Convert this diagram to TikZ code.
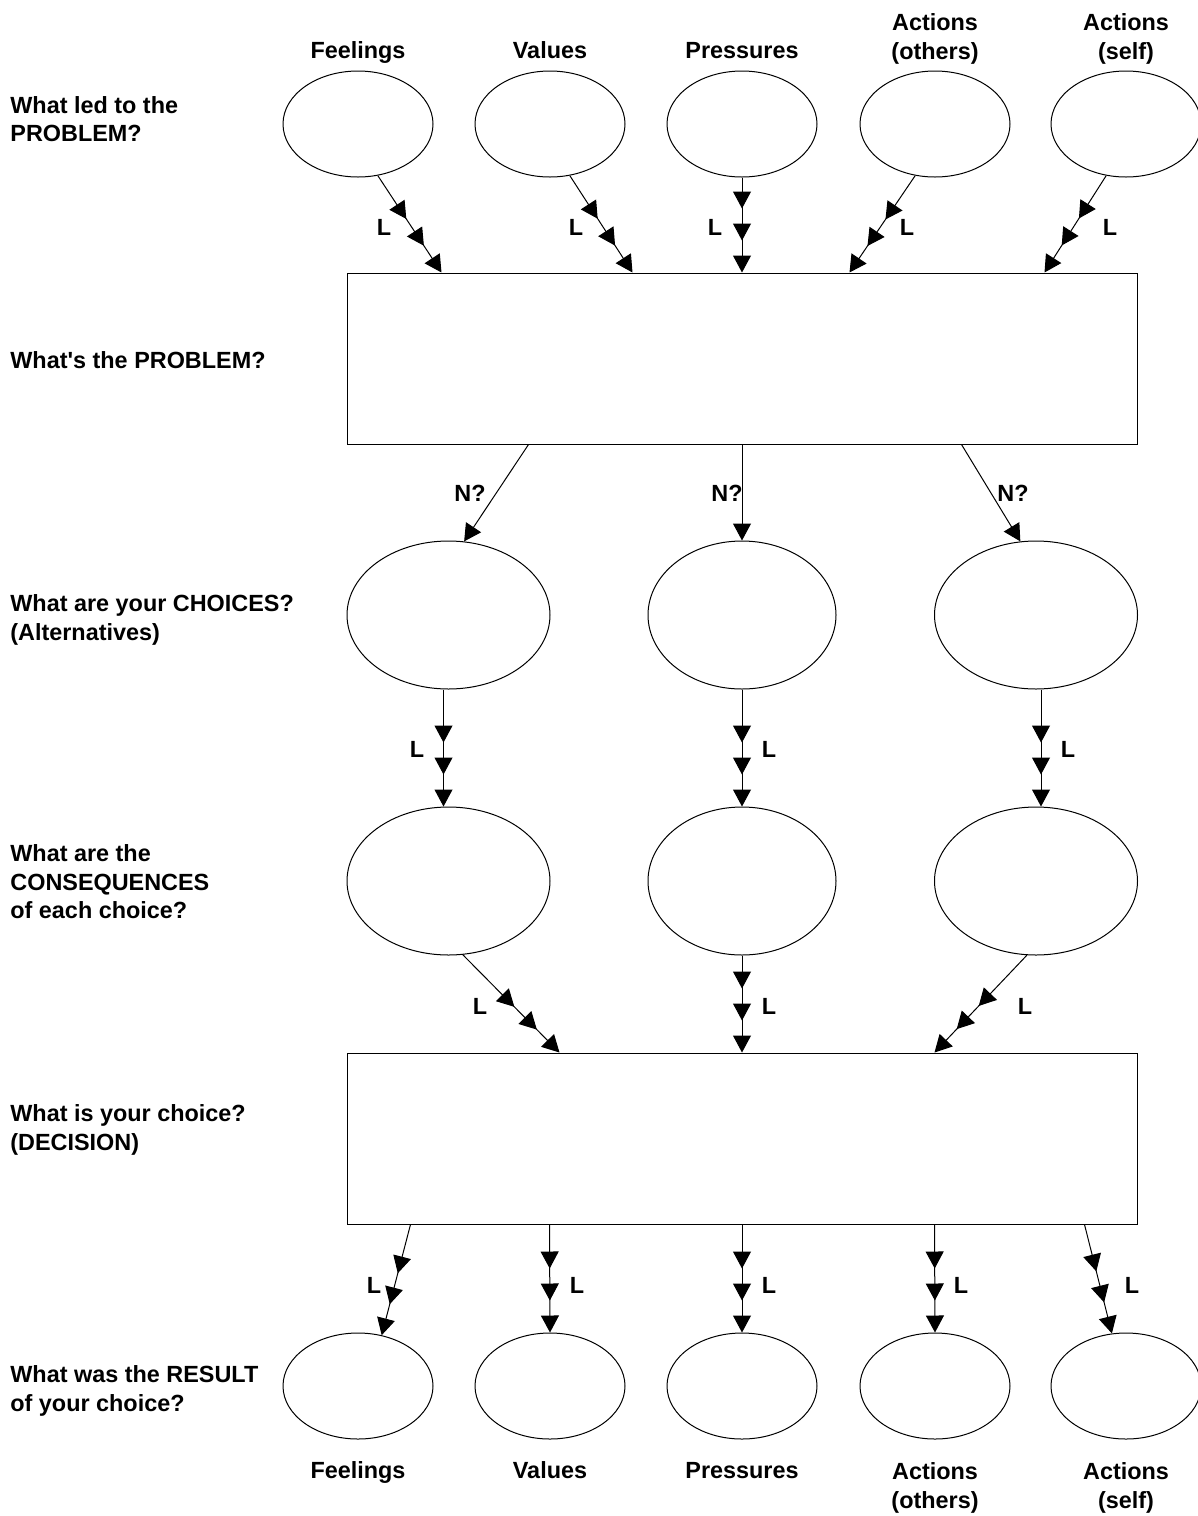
\documentclass[tikz,border=0pt]{standalone}
\usepackage{fontspec}
\setmainfont{Liberation Sans}
\usetikzlibrary{arrows.meta,shapes.geometric,decorations.markings,calc}
\begin{document}
\begin{tikzpicture}[x=0.5pt,y=-0.5pt,
  font=\bfseries\fontsize{11.7pt}{14.2pt}\selectfont,
  small/.style={ellipse, draw, line width=0.5pt, minimum width=75pt, minimum height=53pt, inner sep=0pt},
  big/.style={ellipse, draw, line width=0.5pt, minimum width=101.5pt, minimum height=74pt, inner sep=0pt},
  narrow/.style={big, minimum width=94pt},
  panel/.style={rectangle, draw, line width=0.5pt, minimum width=395pt, minimum height=85.5pt, inner sep=0pt},
  link/.style={line width=0.5pt, -{Triangle[length=8.5pt,width=9pt]}},
  flow/.style={link, postaction={decorate}, decoration={markings,
      mark=at position -16pt with {\arrow{Triangle[length=8.5pt,width=9pt]}},
      mark=at position -32pt with {\arrow{Triangle[length=8.5pt,width=9pt]}}}},
  lab/.style={inner sep=0pt},
  head/.style={inner sep=0pt, align=center},
  word/.style={inner sep=0pt, anchor=base},
  side/.style={inner sep=0pt, anchor=west, align=left},
]
\useasboundingbox (0,0) rectangle (1198,1516);

% row labels on the left
\node[side] (q1) at (10,119) {What led to the\\PROBLEM?};
\node[side] (q2) at (10,360) {What\textquotesingle s the PROBLEM?};
\node[side] (q3) at (10,620) {What are your CHOICES?\\(Alternatives)};
\node[side] (q4) at (10,882) {What are the\\CONSEQUENCES\\of each choice?};
\node[side] (q5) at (10,1130) {What is your choice?\\(DECISION)};
\node[side] (q6) at (10,1391) {What was the RESULT\\of your choice?};

% influences leading to the problem
\node[small] (t1) at (358,124) {};
\node[small] (t2) at (550,124) {};
\node[small] (t3) at (742,124) {};
\node[small] (t4) at (935,124) {};
\node[small] (t5) at (1126,124) {};
\node[word] (h1) at (358,58) {Feelings};
\node[word] (h2) at (550,58) {Values};
\node[word] (h3) at (742,58) {Pressures};
\node[head] (h4) at (935,39) {Actions\\(others)};
\node[head] (h5) at (1126,39) {Actions\\(self)};

% the problem
\node[panel] (r1) at (742,358.5) {};

% choices and consequences
\node[big] (c1) at (448.5,615) {};
\node[narrow] (c2) at (742,615) {};
\node[big] (c3) at (1036,615) {};
\node[big] (d1) at (448.5,881) {};
\node[narrow] (d2) at (742,881) {};
\node[big] (d3) at (1036,881) {};

% the decision
\node[panel] (r2) at (742,1138.5) {};

% results
\node[small] (b1) at (358,1386) {};
\node[small] (b2) at (550,1386) {};
\node[small] (b3) at (742,1386) {};
\node[small] (b4) at (935,1386) {};
\node[small] (b5) at (1126,1386) {};
\node[word] (f1) at (358,1478) {Feelings};
\node[word] (f2) at (550,1478) {Values};
\node[word] (f3) at (742,1478) {Pressures};
\node[head] (f4) at (935,1488) {Actions\\(others)};
\node[head] (f5) at (1126,1488) {Actions\\(self)};

% influences -> problem
\draw[flow] (t1.-69) -- ($(r1.north west)+(95,0)$);
\draw[flow] (t2.-69) -- ($(r1.north west)+(286,0)$);
\draw[flow] (t3.south) -- (r1.north);
\draw[flow] (t4.-111) -- ($(r1.north west)+(503,0)$);
\draw[flow] (t5.-111) -- ($(r1.north west)+(698,0)$);
\node[lab] (l1) at (384,227) {L};
\node[lab] (l2) at (576,227) {L};
\node[lab] (l3) at (715,227) {L};
\node[lab] (l4) at (907,227) {L};
\node[lab] (l5) at (1110,227) {L};

% problem -> choices
\draw[link] ($(r1.south west)+(182,0)$) -- (c1.78);
\draw[link] (r1.south) -- (c2.north);
\draw[link] ($(r1.south west)+(615,0)$) -- (c3.102);
\node[lab] (n1) at (470,493) {N?};
\node[lab] (n2) at (727,493) {N?};
\node[lab] (n3) at (1013,493) {N?};

% choices -> consequences
\draw[flow] ($(c1.south)+(-5,0)$) -- ($(d1.north)+(-5,0)$);
\draw[flow] (c2.south) -- (d2.north);
\draw[flow] ($(c3.south)+(5,0)$) -- ($(d3.north)+(5,0)$);
\node[lab] (m1) at (417,749) {L};
\node[lab] (m2) at (769,749) {L};
\node[lab] (m3) at (1068,749) {L};

% consequences -> decision
\draw[flow] (d1.-79) -- ($(r2.north west)+(213,0)$);
\draw[flow] (d2.south) -- (r2.north);
\draw[flow] (d3.-97) -- ($(r2.north west)+(588,0)$);
\node[lab] (k1) at (480,1006) {L};
\node[lab] (k2) at (769,1006) {L};
\node[lab] (k3) at (1025,1006) {L};

% decision -> results
\draw[flow] ($(r2.south west)+(64,0)$) -- (b1.65);
\draw[flow] ($(r2.south west)+(203,0)$) -- (b2.north);
\draw[flow] (r2.south) -- (b3.north);
\draw[flow] ($(r2.south west)+(588,0)$) -- (b4.north);
\draw[flow] ($(r2.south west)+(738,0)$) -- (b5.105);
\node[lab] (j1) at (374,1285) {L};
\node[lab] (j2) at (577,1285) {L};
\node[lab] (j3) at (769,1285) {L};
\node[lab] (j4) at (961,1285) {L};
\node[lab] (j5) at (1132,1285) {L};
\end{tikzpicture}
\end{document}
